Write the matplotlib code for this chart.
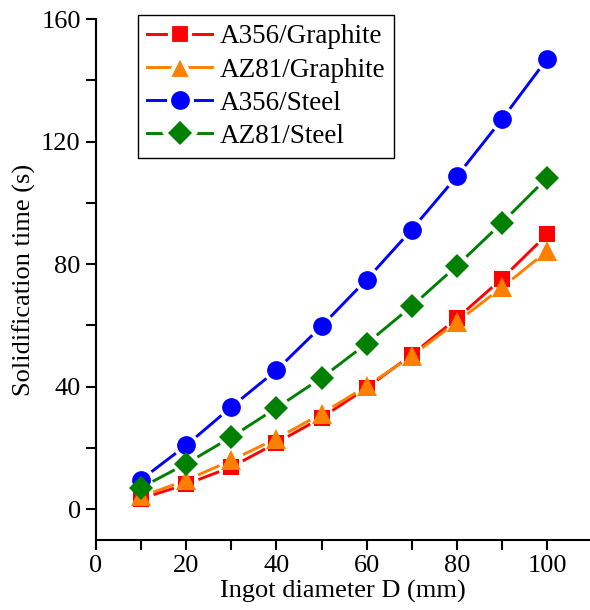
import numpy as np
import matplotlib
matplotlib.use('Agg')
import matplotlib.pyplot as plt
from matplotlib.lines import Line2D
from matplotlib.ticker import MultipleLocator, FuncFormatter

plt.rcParams['font.family'] = ['Liberation Serif', 'DejaVu Serif']

# data
diameter = [10, 20, 30, 40, 50, 60, 70, 80, 90, 100]
a356_graphite = [3.5, 8.2, 13.8, 21.7, 29.9, 39.6, 50.5, 62.3, 75.3, 89.7]
az81_graphite = [4.2, 9.5, 16.0, 23.1, 31.2, 40.2, 50.1, 61.2, 72.4, 84.3]
a356_steel = [9.7, 20.9, 33.4, 45.4, 59.8, 75.0, 91.3, 108.7, 127.3, 147.0]
az81_steel = [7.1, 14.9, 23.6, 33.1, 42.9, 54.1, 66.3, 79.5, 93.5, 108.2]

labels = ['A356/Graphite', 'AZ81/Graphite', 'A356/Steel', 'AZ81/Steel']
colors = ['#ff0000', '#ff8000', '#0000ff', '#008000']
markers = ['s', '^', 'o', 'D']
msizes = [11.5, 14, 13.5, 12.5]
series = [a356_graphite, az81_graphite, a356_steel, az81_steel]

fig = plt.figure(figsize=(5.9, 6.1), dpi=100)
ax = fig.add_axes([96 / 590, 1 - 540 / 610, 1 - 96 / 590, (540 - 19) / 610])
ax.set_xlim(0, 109.5)
ax.set_ylim(-10, 160)

GAP = 13  # px, Origin style gap between line and symbol


def gapped_segments(xs, ys):
    pts = ax.transData.transform(np.column_stack([xs, ys]))
    inv = ax.transData.inverted()
    segs = []
    for p0, p1 in zip(pts[:-1], pts[1:]):
        d = p1 - p0
        n = np.hypot(*d)
        if n <= 2 * GAP:
            continue
        u = d / n
        segs.append(inv.transform(np.array([p0 + u * GAP, p1 - u * GAP])))
    return segs


handles = []
for y, lab, c, m, ms in zip(series, labels, colors, markers, msizes):
    for s in gapped_segments(diameter, y):
        ax.plot(s[:, 0], s[:, 1], color=c, linewidth=2.1, solid_capstyle='butt')
    ax.plot(diameter, y, linestyle='none', color=c, marker=m, markersize=ms,
            markeredgewidth=0)
    # white rim on the legend symbol gives the gap in the sample line
    handles.append(Line2D([], [], color=c, marker=m, markersize=ms + 3, linewidth=2.1,
                          markeredgecolor='white', markeredgewidth=3,
                          markerfacecolor=c))

ax.xaxis.set_major_locator(MultipleLocator(10))
ax.yaxis.set_major_locator(MultipleLocator(20))
ax.xaxis.set_major_formatter(FuncFormatter(lambda v, p: f'{v:.0f}' if round(v) % 20 == 0 else ''))
ax.yaxis.set_major_formatter(FuncFormatter(lambda v, p: f'{v:.0f}' if round(v) % 40 == 0 and v >= 0 else ''))

for s in ['top', 'right']:
    ax.spines[s].set_visible(False)
for s in ['left', 'bottom']:
    ax.spines[s].set_linewidth(1.5)
ax.tick_params(direction='out', length=7, width=1.5, labelsize=19, pad=4)

ax.set_xlabel('Ingot diameter D (mm)', fontsize=19, labelpad=2)
ax.set_ylabel('Solidification time (s)', fontsize=19, labelpad=4)

leg = ax.legend(handles, labels, loc='upper left', bbox_to_anchor=(138 / 590, 1 - 15 / 610),
                bbox_transform=fig.transFigure, borderaxespad=0, fontsize=19.5,
                handlelength=2.4, handletextpad=0.25, labelspacing=0.3,
                fancybox=False, edgecolor='black', framealpha=1,
                borderpad=0.35)
leg.get_frame().set_linewidth(1.0)

fig.savefig('out.png', dpi=100)
